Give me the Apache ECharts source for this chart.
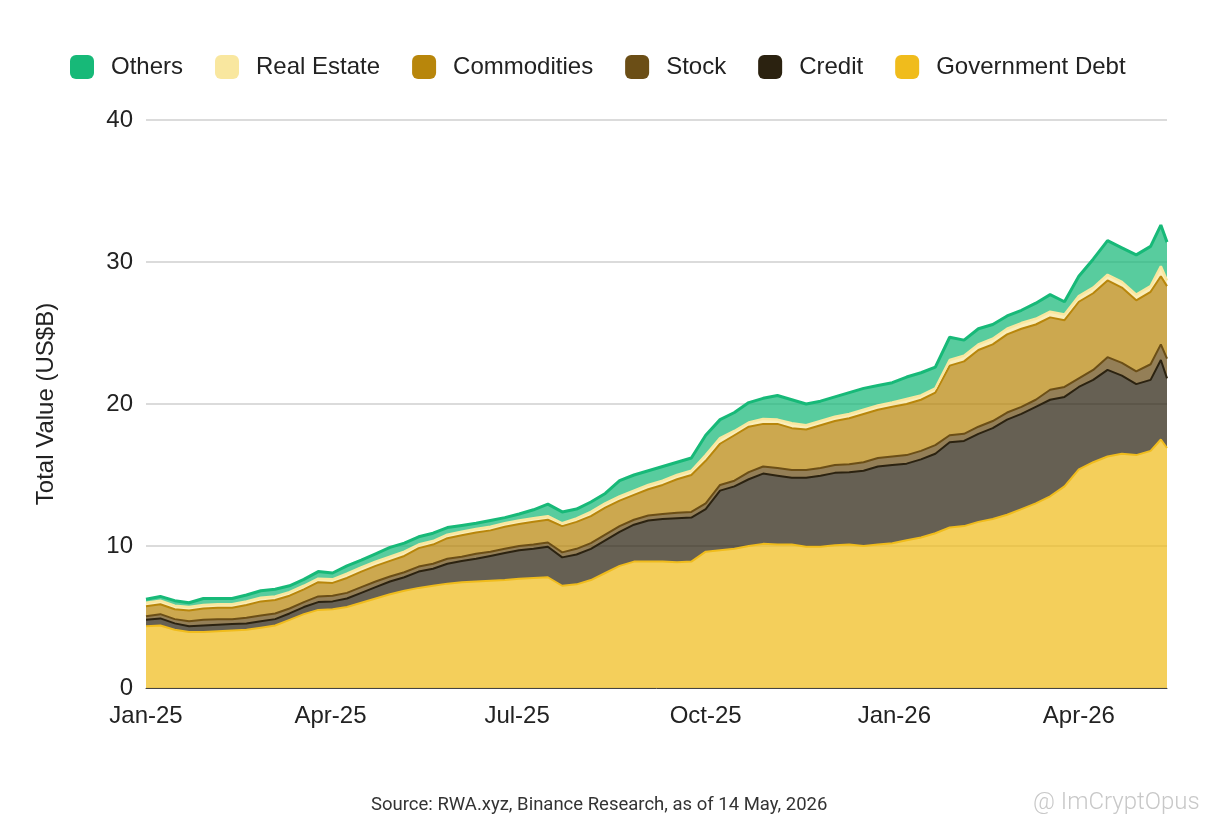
<!DOCTYPE html>
<html>
<head>
<meta charset="utf-8">
<script src="https://cdn.jsdelivr.net/npm/echarts@6/dist/echarts.min.js"></script>
<style>html,body{margin:0;padding:0;background:#fff;}#c{width:1211px;height:827px;}</style>
</head>
<body>
<div id="c"></div>
<script>
const dates = ['2025-01-01','2025-01-08','2025-01-15','2025-01-22','2025-01-29','2025-02-05','2025-02-12','2025-02-19','2025-02-26','2025-03-05',
'2025-03-12','2025-03-19','2025-03-26','2025-04-02','2025-04-09','2025-04-16','2025-04-23','2025-04-30','2025-05-07','2025-05-14',
'2025-05-21','2025-05-28','2025-06-04','2025-06-11','2025-06-18','2025-06-25','2025-07-02','2025-07-09','2025-07-16','2025-07-23',
'2025-07-30','2025-08-06','2025-08-13','2025-08-20','2025-08-27','2025-09-03','2025-09-10','2025-09-17','2025-09-24','2025-10-01',
'2025-10-08','2025-10-15','2025-10-22','2025-10-29','2025-11-05','2025-11-12','2025-11-19','2025-11-26','2025-12-03','2025-12-10',
'2025-12-17','2025-12-24','2025-12-31','2026-01-07','2026-01-14','2026-01-21','2026-01-28','2026-02-04','2026-02-11','2026-02-18',
'2026-02-25','2026-03-04','2026-03-11','2026-03-18','2026-03-25','2026-04-01','2026-04-08','2026-04-15','2026-04-22','2026-04-29',
'2026-05-06','2026-05-11','2026-05-14'];

const govDebt = [4.35,4.40,4.10,3.95,3.95,4.00,4.05,4.10,4.25,4.40,
4.80,5.20,5.50,5.55,5.70,6.00,6.30,6.60,6.85,7.05,
7.20,7.35,7.45,7.50,7.55,7.60,7.70,7.75,7.80,7.20,
7.30,7.60,8.10,8.60,8.90,8.90,8.90,8.85,8.90,9.60,
9.70,9.80,10.00,10.15,10.10,10.10,9.95,9.95,10.05,10.10,
10.00,10.10,10.20,10.40,10.60,10.90,11.30,11.40,11.70,11.90,
12.20,12.60,13.00,13.50,14.20,15.40,15.90,16.30,16.50,16.40,
16.70,17.50,16.90];

const credit = [0.45,0.50,0.45,0.40,0.45,0.45,0.45,0.45,0.45,0.45,
0.45,0.50,0.55,0.55,0.60,0.70,0.80,0.90,0.95,1.15,
1.20,1.40,1.50,1.60,1.75,1.90,2.00,2.05,2.15,2.00,
2.10,2.20,2.30,2.40,2.60,2.90,3.00,3.10,3.10,3.00,
4.20,4.40,4.70,4.95,4.85,4.70,4.85,5.00,5.10,5.10,
5.30,5.50,5.50,5.40,5.50,5.60,6.00,6.00,6.20,6.40,
6.70,6.70,6.80,6.80,6.30,5.80,5.80,6.10,5.50,5.00,
5.00,5.60,4.90];

const stock = [0.25,0.30,0.30,0.35,0.40,0.40,0.35,0.40,0.40,0.40,
0.35,0.35,0.40,0.40,0.40,0.40,0.40,0.35,0.35,0.35,
0.35,0.35,0.30,0.35,0.30,0.30,0.30,0.30,0.30,0.35,
0.40,0.40,0.40,0.40,0.35,0.35,0.35,0.40,0.40,0.40,
0.40,0.40,0.50,0.50,0.55,0.55,0.55,0.55,0.55,0.55,
0.60,0.60,0.60,0.60,0.60,0.60,0.50,0.50,0.50,0.50,
0.50,0.50,0.50,0.70,0.70,0.60,0.70,0.90,0.90,0.90,
1.10,1.10,1.40];

const commodities = [0.70,0.70,0.70,0.75,0.80,0.80,0.80,0.90,1.00,0.95,
0.90,0.90,1.00,0.90,1.05,1.10,1.10,1.10,1.15,1.30,
1.35,1.45,1.50,1.50,1.50,1.55,1.55,1.60,1.60,1.85,
1.90,1.90,1.90,1.80,1.75,1.85,2.05,2.35,2.60,3.00,
2.90,3.20,3.20,3.00,3.10,2.95,2.85,3.00,3.10,3.25,
3.40,3.40,3.50,3.60,3.60,3.70,4.90,5.10,5.40,5.40,
5.50,5.50,5.30,5.10,4.70,5.40,5.40,5.40,5.30,5.00,
5.10,4.80,5.10];

const realEstate = [0.25,0.25,0.25,0.25,0.25,0.25,0.25,0.25,0.25,0.25,
0.25,0.25,0.25,0.25,0.30,0.30,0.30,0.30,0.30,0.25,
0.25,0.25,0.25,0.25,0.25,0.25,0.25,0.25,0.25,0.20,
0.25,0.30,0.30,0.30,0.30,0.30,0.30,0.30,0.30,0.40,
0.40,0.30,0.30,0.35,0.30,0.35,0.30,0.30,0.30,0.30,
0.30,0.30,0.30,0.35,0.30,0.30,0.40,0.40,0.40,0.40,
0.40,0.40,0.40,0.40,0.40,0.40,0.40,0.40,0.40,0.40,
0.40,0.70,0.40];

const others = [0.25,0.30,0.35,0.30,0.45,0.40,0.40,0.45,0.50,0.50,
0.45,0.45,0.50,0.45,0.55,0.50,0.55,0.65,0.60,0.55,
0.55,0.50,0.45,0.40,0.45,0.40,0.45,0.60,0.85,0.80,
0.65,0.70,0.70,1.10,1.10,1.00,1.00,0.90,0.90,1.40,
1.30,1.30,1.40,1.45,1.70,1.65,1.50,1.40,1.40,1.50,
1.50,1.40,1.40,1.55,1.60,1.50,1.60,1.10,1.10,1.00,
0.90,0.90,1.10,1.20,0.90,1.40,2.00,2.40,2.40,2.80,
2.80,2.90,2.70];

const yTicks = [0, 10, 20, 30, 40];
const monthNames = ['Jan','Feb','Mar','Apr','May','Jun','Jul','Aug','Sep','Oct','Nov','Dec'];
const quarterMonths = [0, 3, 6, 9];

const seriesDefs = [
  {name:'Government Debt', data:govDebt, color:'#f0bc1c', w:2},
  {name:'Credit', data:credit, color:'#2b2210', w:2},
  {name:'Stock', data:stock, color:'#6b4e16', w:2},
  {name:'Commodities', data:commodities, color:'#b8860b', w:2},
  {name:'Real Estate', data:realEstate, color:'#f9e79f', w:2.5},
  {name:'Others', data:others, color:'#17b978', w:3}
];

const FONT = "'Liberation Sans', Arial, sans-serif";
const chart = echarts.init(document.getElementById('c'), null, {renderer:'canvas'});
chart.setOption({
  backgroundColor:'#fff',
  animation:false,
  title:[
    {text:'Source: RWA.xyz, Binance Research, as of 14 May, 2026', left:366, top:791,
     textStyle:{fontFamily:"Roboto, sans-serif", fontSize:18.5, fontWeight:'normal', color:'#333'}},
    {text:'@ ImCryptOpus', left:1028, top:786,
     textStyle:{fontFamily:"Roboto, sans-serif", fontSize:24, fontWeight:'300', color:'#c8c8c8'}}
  ],
  legend:{
    data:['Others','Real Estate','Commodities','Stock','Credit','Government Debt'],
    left:70, top:55, padding:0, itemWidth:24, itemHeight:24, itemGap:32, icon:'roundRect',
    textStyle:{fontFamily:FONT, fontSize:24, color:'#222', padding:[0,0,0,12]}
  },
  grid:{left:146, right:44, top:120, bottom:139, containLabel:false},
  xAxis:{
    type:'time',
    min:'2025-01-01', max:'2026-05-14',
    splitNumber:17,
    minInterval: 27*86400000, maxInterval: 32*86400000,
    boundaryGap:false,
    axisLine:{show:true, lineStyle:{color:'#444', width:1}},
    axisTick:{show:false},
    splitLine:{show:false},
    axisLabel:{
      fontFamily:FONT, fontSize:24, color:'#222', margin:16, hideOverlap:false,
      formatter:function(v){
        const d=new Date(v);
        if (d.getDate() !== 1 || quarterMonths.indexOf(d.getMonth()) < 0) return '';
        return monthNames[d.getMonth()]+'-'+String(d.getFullYear()).slice(2);
      }
    }
  },
  yAxis:{
    type:'value', min:yTicks[0], max:yTicks[yTicks.length-1], interval:10,
    name:'Total Value (US$B)', nameLocation:'middle', nameGap:88,
    nameTextStyle:{fontFamily:FONT, fontSize:24, color:'#222'},
    axisLine:{show:false}, axisTick:{show:false},
    splitLine:{lineStyle:{color:'#cfcfcf', width:1.5}},
    axisLabel:{fontFamily:FONT, fontSize:24, color:'#222', margin:13}
  },
  series: seriesDefs.map(s => ({
    name:s.name, type:'line', stack:'total', showSymbol:false, symbol:'none',
    color:s.color,
    lineStyle:{color:s.color, width:s.w},
    areaStyle:{color:s.color, opacity:0.72},
    data: dates.map((d,i)=>[d, s.data[i]])
  }))
});
</script>
</body>
</html>
